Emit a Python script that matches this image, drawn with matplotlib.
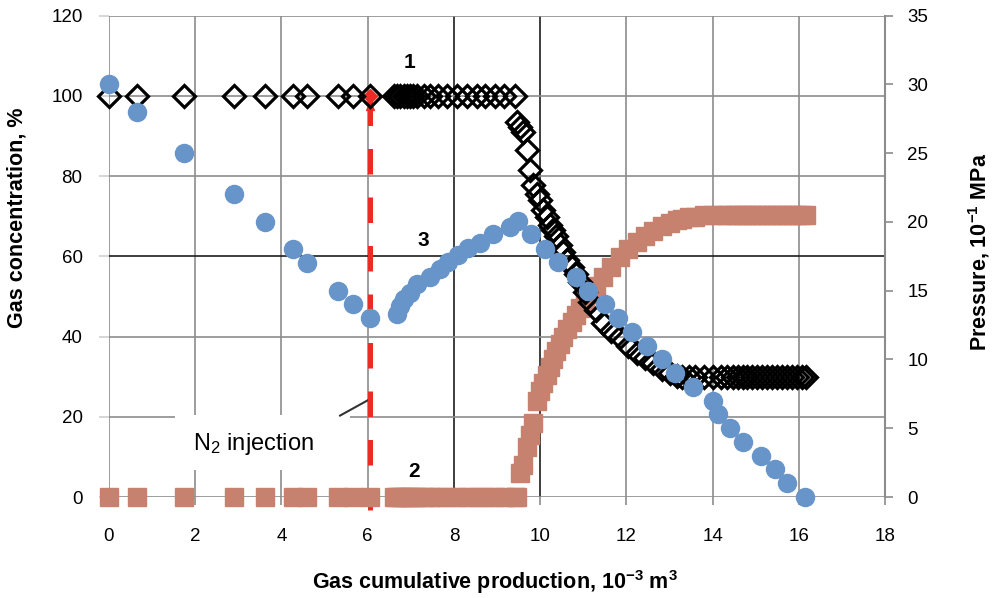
import matplotlib
matplotlib.use("Agg")
import matplotlib.pyplot as plt
from matplotlib.patches import Rectangle

plt.rcParams['font.family'] = ['Liberation Sans', 'DejaVu Sans']
plt.rcParams['mathtext.fontset'] = 'custom'
plt.rcParams['mathtext.rm'] = 'Liberation Sans'
plt.rcParams['mathtext.bf'] = 'Liberation Sans:bold'
plt.rcParams['mathtext.it'] = 'Liberation Sans:italic'

# pressure (curve 3, right axis)
x_press = [0.0, 0.65, 1.75, 2.91, 3.62, 4.26, 4.60, 5.31, 5.65, 6.05,
           6.67, 6.75, 6.84, 6.98, 7.14, 7.45, 7.68, 7.87, 8.10, 8.33, 8.61, 8.91, 9.29, 9.49,
           9.80, 10.11, 10.42, 10.83, 11.12, 11.50, 11.81, 12.12, 12.47, 12.82, 13.13, 13.55,
           14.00, 14.12, 14.40, 14.71, 15.12, 15.45, 15.73, 16.14]
pressure = [30.0, 28.0, 25.0, 22.0, 20.0, 18.0, 17.0, 15.0, 14.0, 13.0,
            13.3, 13.9, 14.4, 14.8, 15.5, 16.0, 16.6, 17.1, 17.6, 18.1, 18.5, 19.1, 19.6, 20.1,
            19.1, 18.0, 17.1, 16.0, 15.0, 14.0, 13.0, 12.0, 11.0, 10.0, 9.0, 8.0,
            7.0, 6.0, 5.0, 4.0, 3.0, 2.0, 1.0, 0.0]

# gas composition (curves 1 and 2, left axis)
x_gas = [0.0, 0.65, 1.75, 2.91, 3.62, 4.26, 4.60, 5.31, 5.65, 6.05,
         6.60, 6.67, 6.75, 6.84, 6.91, 6.98, 7.06, 7.14, 7.30, 7.45, 7.63, 7.84, 8.07, 8.30,
         8.54, 8.72, 8.95, 9.17, 9.42,
         9.46, 9.53, 9.60, 9.69, 9.77, 9.84, 9.92, 10.00, 10.07, 10.15, 10.23, 10.30, 10.38,
         10.46, 10.54, 10.63, 10.73, 10.83, 10.93, 11.04, 11.16, 11.30, 11.47, 11.65, 11.85,
         12.05, 12.24, 12.44, 12.63, 12.82, 13.01, 13.17, 13.30, 13.45, 13.60,
         13.80, 14.02, 14.20, 14.33, 14.47, 14.60, 14.70, 14.80, 14.92, 15.03, 15.15, 15.26,
         15.38, 15.50, 15.60, 15.72, 15.84, 15.96, 16.07, 16.17]
ch4 = [100.0] * 10 + [100.0] * 19 + [
    93.4, 92.2, 91.0, 86.4, 81.6, 77.7, 75.5, 74.0, 71.5, 69.8, 67.8, 66.5, 65.0,
    62.8, 61.0, 59.2, 57.3, 55.5, 53.5, 51.0, 48.5, 46.5, 43.5, 41.5, 39.8,
    37.6, 36.0, 34.6, 33.3, 31.9, 30.8, 30.2, 30.0, 30.0, 30.0] + [30.0] * 20
n2 = [0.0] * 10 + [0.0] * 19 + [
    0.0, 5.9, 8.0, 12.5, 15.5, 18.5, 24.0, 26.5, 28.5, 30.5, 32.4, 34.5, 36.5,
    38.2, 39.9, 41.8, 43.6, 45.3, 47.0, 48.7, 50.5, 52.5, 54.8, 57.3, 59.8,
    61.8, 63.5, 65.0, 66.3, 67.5, 68.4, 69.0, 69.4, 69.7, 69.8] + [70.3] * 20

x_inject = 6.05
x_ticks = [0, 2, 4, 6, 8, 10, 12, 14, 16, 18]
y_ticks = [0, 20, 40, 60, 80, 100, 120]
p_ticks = [0, 5, 10, 15, 20, 25, 30, 35]

grey = '#8c8c8c'
dark = '#1e1e1e'

fig = plt.figure(figsize=(9.92, 5.98), dpi=100)
ax = fig.add_axes([109 / 992, 1 - 497 / 598, 776 / 992, 481.3 / 598])
ax.set_xlim(0, 18)
ax.set_ylim(0, 120)
ax.set_xticks(x_ticks)
ax.set_yticks(y_ticks)
for s in ax.spines.values():
    s.set_visible(False)
ax.grid(True, color=grey, lw=1.2)
ax.set_axisbelow(True)
ax.tick_params(axis='x', direction='out', length=6, width=1.2, color=grey,
               labelsize=13.5, pad=16)
ax.tick_params(axis='y', direction='out', length=7, width=1.2, color='#d0d0d0',
               labelsize=13.5, pad=12)
for v, gl, tk in zip(x_ticks, ax.get_xgridlines(), ax.xaxis.get_major_ticks()):
    if v in (8, 10):
        gl.set_color(dark)
        tk.tick1line.set_color(dark)
for v, gl in zip(y_ticks, ax.get_ygridlines()):
    if v == 60:
        gl.set_color(dark)

# injection marker line
ax.plot([x_inject, x_inject], [99, -3.2], color='#ee2a24', lw=3.6,
        dashes=(5.1, 4.6), clip_on=False, zorder=2)

ax.plot(x_gas, n2, ls='none', marker='s', ms=12.5, mfc='#c6826e', mec='#c6826e',
        clip_on=False, zorder=3)
ax.plot([x_inject], [97.6], ls='none', marker='^', ms=6, color='#ee2a24', zorder=3.5)
ax.plot([x_inject], [100], ls='none', marker='D', ms=7.5, color='#ee2a24', zorder=3.5)
ax.plot(x_gas, ch4, ls='none', marker='D', ms=11.5, mfc='none', mec='black', mew=2.3,
        clip_on=False, zorder=4)

# label box for the injection point
ax.add_patch(Rectangle((1.53, 6.7), 4.06, 13.75, facecolor='white', edgecolor='none',
                       zorder=1.5))
ax.plot([5.36, 6.0], [20.3, 24.1], color='#333333', lw=1.5, zorder=1.6)
ax.text(3.34, 13.3, 'N$_2$ injection', fontsize=17, ha='center', va='center', zorder=5)

ax.text(6.98, 108.3, '1', fontsize=15, fontweight='bold', ha='center', va='center')
ax.text(7.28, 64.0, '3', fontsize=15, fontweight='bold', ha='center', va='center')
ax.text(7.07, 6.3, '2', fontsize=15, fontweight='bold', ha='center', va='center')

ax.set_xlabel(r'Gas cumulative production, $\mathbf{10^{-3}}$ $\mathbf{m^{3}}$',
              fontsize=15.5, fontweight='bold')
ax.xaxis.set_label_coords(0.497, -0.148)
ax.set_ylabel('Gas concentration, %', fontsize=15.5, fontweight='bold')
ax.yaxis.set_label_coords(-0.105, 0.58)

ax2 = ax.twinx()
ax2.set_ylim(0, 35)
ax2.set_yticks(p_ticks)
for k, s in ax2.spines.items():
    s.set_visible(k == 'right')
ax2.spines['right'].set_color(grey)
ax2.spines['right'].set_linewidth(1.5)
ax2.tick_params(axis='y', direction='out', length=6, width=1.2, color=grey,
                labelsize=13.5, pad=10)
ax2.plot(x_press, pressure, ls='none', marker='o', ms=13, mfc='#6795c9', mec='#6795c9',
         clip_on=False, zorder=5)
ax2.set_ylabel(r'Pressure, $\mathbf{10^{-1}}$ MPa', fontsize=15.5, fontweight='bold')
ax2.yaxis.set_label_coords(1.105, 0.51)

fig.savefig('out.png', dpi=100)
